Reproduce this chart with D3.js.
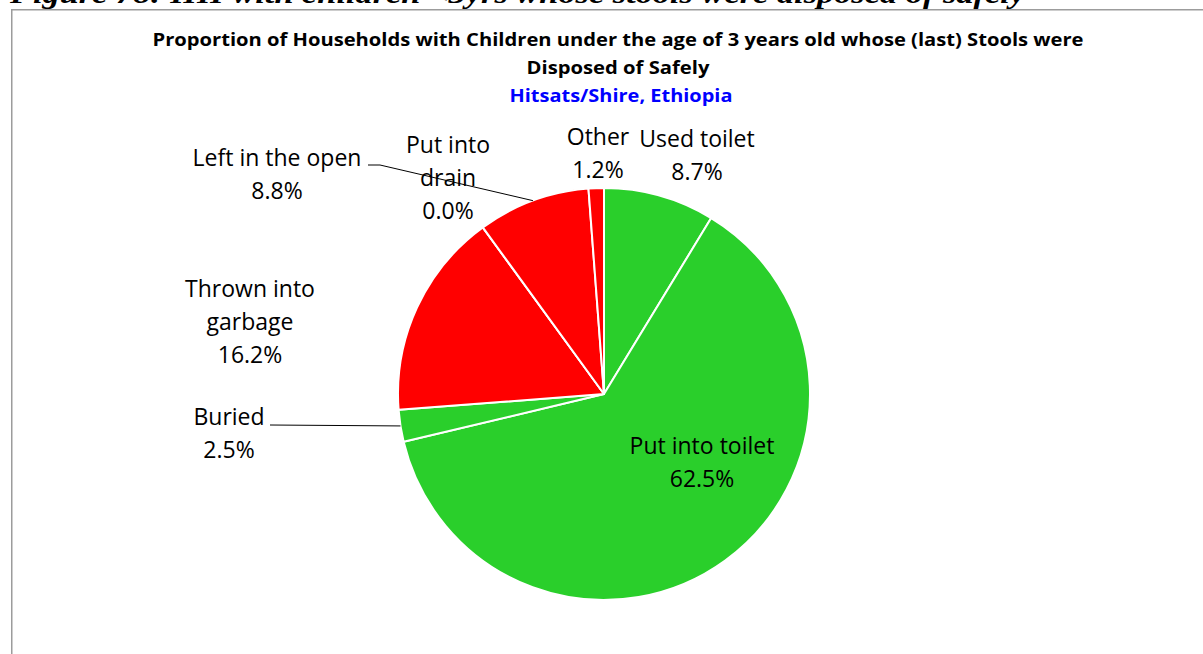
<!DOCTYPE html>
<html>
<head>
<meta charset="utf-8">
<script src="https://cdn.jsdelivr.net/npm/d3@7"></script>
<style>
  html, body { margin: 0; padding: 0; background: #ffffff; }
  svg { display: block; }
</style>
</head>
<body>
<svg id="chart" width="1203" height="654"></svg>
<script>
// Disposal methods, clockwise from 12 o'clock
const categories = ["Used toilet", "Put into toilet", "Buried", "Thrown into garbage", "Put into drain", "Left in the open", "Other"];
const labelLines = [["Used toilet"], ["Put into toilet"], ["Buried"], ["Thrown into", "garbage"], ["Put into", "drain"], ["Left in the open"], ["Other"]];
const values = [8.7, 62.5, 2.5, 16.2, 0.0, 8.8, 1.2];
const safe = [true, true, true, false, false, false, false];

const captionText = "Figure 78: HH with children <3yrs whose stools were disposed of safely";
const titleLines = ["Proportion of Households with Children under the age of 3 years old whose (last) Stools were", "Disposed of Safely"];
const subtitle = "Hitsats/Shire, Ethiopia";

// Layout
const cx = 604, cy = 394, R = 206;
const lineGap = 33;
const labelFont = "'Open Sans', 'Noto Sans', sans-serif";
// label anchor (centre x, first baseline) relative to pie centre
const labelPos = {
  "Used toilet": [93, -247],
  "Put into toilet": [98, 60],
  "Buried": [-375, 31],
  "Thrown into garbage": [-354, -97],
  "Put into drain": [-156, -241],
  "Left in the open": [-327, -228],
  "Other": [-6, -249]
};
// leader line start points (relative to pie centre) for labels placed off the slice
const leaders = {
  "Left in the open": [[-236, -229], [-224, -229]],
  "Buried": [[-334, 31]]
};

const svg = d3.select("#chart");

// Figure caption (partly above the page edge)
svg.append("text")
  .attr("x", 10).attr("y", 3)
  .attr("font-family", "'Liberation Serif', serif")
  .attr("font-weight", "bold").attr("font-style", "italic")
  .attr("font-size", 28)
  .attr("textLength", 1015).attr("lengthAdjust", "spacingAndGlyphs")
  .attr("fill", "#000")
  .text(captionText);

// Chart area frame
svg.append("rect")
  .attr("x", 11.75).attr("y", 9.75)
  .attr("width", 1300).attr("height", 700)
  .attr("fill", "#fff")
  .attr("stroke", "#9c9c9c").attr("stroke-width", 1.5);

// Titles
const titleWidths = [931, 183];
titleLines.forEach((t, i) => {
  svg.append("text")
    .attr("x", 618).attr("y", 46 + i * 28)
    .attr("text-anchor", "middle")
    .attr("font-family", labelFont).attr("font-weight", "bold")
    .attr("font-size", 17)
    .attr("textLength", titleWidths[i]).attr("lengthAdjust", "spacingAndGlyphs")
    .attr("fill", "#000")
    .text(t);
});
svg.append("text")
  .attr("x", 621).attr("y", 102)
  .attr("text-anchor", "middle")
  .attr("font-family", labelFont).attr("font-weight", "bold")
  .attr("font-size", 17)
  .attr("textLength", 223).attr("lengthAdjust", "spacingAndGlyphs")
  .attr("fill", "#0000ff")
  .text(subtitle);

// Pie
const data = categories.map((c, i) => ({ name: c, value: values[i], safe: safe[i], lines: labelLines[i] }));
const pie = d3.pie().sort(null).value(d => d.value);
const arcs = pie(data);
const arc = d3.arc().innerRadius(0).outerRadius(R);
const color = d3.scaleOrdinal().domain([true, false]).range(["#2acf2b", "#ff0000"]);

const g = svg.append("g").attr("transform", `translate(${cx},${cy})`);

g.selectAll("path.slice")
  .data(arcs)
  .join("path")
  .attr("class", "slice")
  .attr("d", arc)
  .attr("fill", d => color(d.data.safe))
  .attr("stroke", "#ffffff")
  .attr("stroke-width", 2)
  .attr("stroke-linejoin", "round");

// Leader lines end on the slice edge at its mid angle
arcs.forEach(a => {
  const pts = leaders[a.data.name];
  if (!pts) return;
  const mid = (a.startAngle + a.endAngle) / 2;
  const end = [R * Math.sin(mid), -R * Math.cos(mid)];
  g.append("path")
    .attr("d", d3.line()(pts.concat([end])))
    .attr("fill", "none")
    .attr("stroke", "#000")
    .attr("stroke-width", 1);
});

// Data labels
arcs.forEach(a => {
  const [lx, ly] = labelPos[a.data.name];
  const lines = a.data.lines.concat([d3.format(".1f")(a.data.value) + "%"]);
  const t = g.append("text")
    .attr("text-anchor", "middle")
    .attr("font-family", labelFont)
    .attr("font-size", 23)
    .attr("fill", "#000");
  lines.forEach((s, i) => {
    t.append("tspan").attr("x", lx).attr("y", ly + i * lineGap).text(s);
  });
});
</script>
</body>
</html>
